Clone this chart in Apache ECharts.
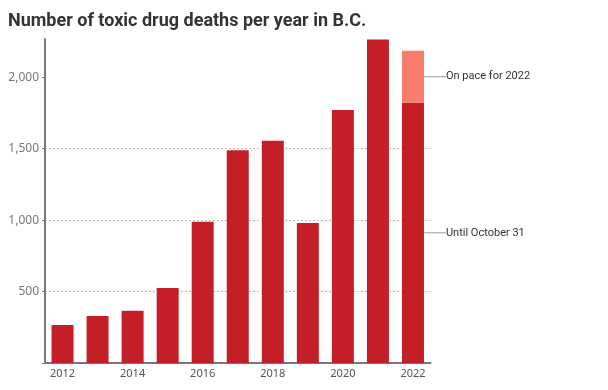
<!DOCTYPE html>
<html><head><meta charset="utf-8">
<script src="https://cdn.jsdelivr.net/npm/echarts@6/dist/echarts.min.js"></script>
<style>html,body{margin:0;padding:0;background:#fff}#c{width:608px;height:390px}</style>
</head><body><div id="c"></div>
<script>
const years = ['2012','2013','2014','2015','2016','2017','2018','2019','2020','2021','2022'];
const deaths = [266, 329, 366, 525, 989, 1490, 1556, 980, 1771, 2264, 1822];
const paceExtra = [null, null, null, null, null, null, null, null, null, null, 364];
const titleText = 'Number of toxic drug deaths per year in B.C.';
const labelUntil = 'Until October 31';
const labelPace = 'On pace for 2022';

const chart = echarts.init(document.getElementById('c'), null, {renderer:'canvas'});
const annot = {color:'#333', fontSize:11, fontFamily:'Roboto'};
const last = deaths.length - 1;
const deathsData = deaths.map((v,i)=> i===last ? {
  value:v, label:Object.assign({show:true, position:'right', distance:0, formatter:labelUntil}, annot),
  labelLine:{show:true, lineStyle:{color:'#999', width:1}}
} : v);
const paceData = paceExtra.map((v,i)=> v==null ? v : {
  value:v, label:Object.assign({show:true, position:'right', distance:0, formatter:labelPace}, annot),
  labelLine:{show:true, lineStyle:{color:'#999', width:1}}
});
chart.setOption({
  animation:false,
  title:{text:titleText, left:3, top:7, textStyle:{fontFamily:'Roboto', fontWeight:'bold', fontSize:18, color:'#333'}},
  grid:{left:45, right:177.5, top:39, bottom:27, containLabel:false},
  xAxis:{type:'category', data:years,
    axisLine:{lineStyle:{color:'#777', width:2}}, axisTick:{show:false},
    axisLabel:{interval:1, color:'#555', fontSize:11, fontFamily:'Noto Sans', margin:5}},
  yAxis:{type:'value', min:0, max:2268, interval:500,
    axisLine:{show:true, lineStyle:{color:'#777', width:2}},
    axisTick:{show:true, inside:false, length:3, lineStyle:{color:'#777'}},
    axisLabel:{color:'#777', fontSize:12, fontFamily:'Noto Sans', margin:6,
      formatter:v=> v===0 ? '' : v.toLocaleString('en-US'),
      showMaxLabel:false},
    splitLine:{show:true, lineStyle:{type:[2,2], width:1, color:['rgba(0,0,0,0)','#bbb','#bbb','#bbb','rgba(0,0,0,0)']}}},
  series:[
    {type:'bar', name:'deaths', stack:'a', data:deathsData, barWidth:22, itemStyle:{color:'#c41f27'},
      labelLayout:function(p){ return p.dataIndex===last ? {dx:22} : {}; }},
    {type:'bar', name:'pace', stack:'a', data:paceData, barWidth:22, itemStyle:{color:'#f77c6b'},
      labelLayout:function(p){ return p.dataIndex===last ? {dx:22} : {}; }}
  ]
});
</script></body></html>
